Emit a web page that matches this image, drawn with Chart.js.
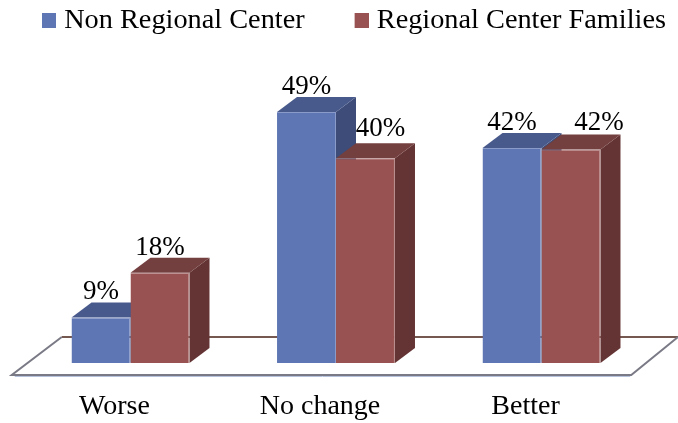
<!DOCTYPE html>
<html>
<head>
<meta charset="utf-8">
<style>html,body{margin:0;padding:0;background:#fff}#w{position:relative;width:678px;height:423px}</style>
<script src="https://cdn.jsdelivr.net/npm/chart.js@4"></script>
</head>
<body>
<div id="w"><canvas id="c" width="678" height="423"></canvas></div>
<script>
const categories = ['Worse', 'No change', 'Better'];
const nonRegional = [8.9, 49, 42];
const regional = [17.6, 40, 41.7];
const seriesNames = ['Non Regional Center', 'Regional Center Families'];

const FONT = '"Liberation Serif", serif';
const faces = [
  {front: '#5f76b4', top: '#48598b', side: '#3d4c78', edge: '#8b9bc9'},
  {front: '#995252', top: '#743f3f', side: '#643333', edge: '#b98b8b'}
];
const depth = {dx: 20, dy: -15};
const labelNudge = [
  [{dx: 0, dy: -18}, {dx: 0, dy: -18}, {dx: 0, dy: -18}],
  [{dx: 0, dy: -18}, {dx: 15, dy: -22}, {dx: 28, dy: -19}]
];

function swatch(color) {
  const cv = document.createElement('canvas');
  cv.width = 69; cv.height = 15;
  const g = cv.getContext('2d');
  g.fillStyle = color;
  g.fillRect(55, 0, 14, 15);
  return cv;
}
const swatches = faces.map(f => swatch(f.front));

function poly(ctx, pts, fill) {
  ctx.beginPath();
  pts.forEach((p, i) => i ? ctx.lineTo(p[0], p[1]) : ctx.moveTo(p[0], p[1]));
  ctx.closePath();
  ctx.fillStyle = fill;
  ctx.fill();
}

const threeD = {
  id: 'threeD',
  afterLayout(chart) {
    const l = chart.legend;
    l.left -= 8; l.right -= 8; l.top += 5; l.bottom += 5;
  },
  beforeDatasetsDraw(chart) {
    const {ctx, scales} = chart;
    const y0 = scales.y.getPixelForValue(0);
    const L = scales.x.left, R = scales.x.right;
    const fy = y0 + 12, by = y0 - 26;
    ctx.save();
    ctx.lineWidth = 2;
    ctx.strokeStyle = '#75584f';
    ctx.beginPath(); ctx.moveTo(L + 34, by); ctx.lineTo(678, by); ctx.stroke();
    ctx.strokeStyle = '#7a7a86';
    ctx.beginPath();
    ctx.moveTo(L + 34, by); ctx.lineTo(L - 16, fy); ctx.lineTo(R - 13, fy); ctx.lineTo(678, by);
    ctx.stroke();
    ctx.strokeStyle = '#b6c2dc'; ctx.lineWidth = 1;
    ctx.beginPath(); ctx.moveTo(L - 13, fy + 1.5); ctx.lineTo(R - 14, fy + 1.5); ctx.stroke();
    categories.forEach((_, i) => {
      chart.data.datasets.forEach((ds, d) => {
        const b = chart.getDatasetMeta(d).data[i];
        const x0 = b.x - b.width / 2, x1 = b.x + b.width / 2, t = b.y, base = b.base;
        poly(ctx, [[x1, t], [x1 + depth.dx, t + depth.dy], [x1 + depth.dx, base + depth.dy], [x1, base]], faces[d].side);
        poly(ctx, [[x0, t], [x0 + depth.dx, t + depth.dy], [x1 + depth.dx, t + depth.dy], [x1, t]], faces[d].top);
      });
    });
    ctx.restore();
  },
  afterDatasetsDraw(chart) {
    const {ctx} = chart;
    ctx.save();
    ctx.font = '27px ' + FONT;
    ctx.fillStyle = '#000';
    ctx.textAlign = 'center';
    ctx.textBaseline = 'alphabetic';
    chart.data.datasets.forEach((ds, d) => {
      chart.getDatasetMeta(d).data.forEach((b, i) => {
        const n = labelNudge[d][i];
        ctx.fillText(Math.round(ds.data[i]) + '%', b.x + n.dx, b.y + n.dy);
      });
    });
    ctx.restore();
  }
};

const edgeWidth = {top: 1, right: 1, bottom: 0, left: 0};

new Chart(document.getElementById('c'), {
  type: 'bar',
  data: {
    labels: categories,
    datasets: [
      {label: seriesNames[0], data: nonRegional, backgroundColor: faces[0].front, borderColor: faces[0].edge, borderWidth: edgeWidth},
      {label: seriesNames[1], data: regional, backgroundColor: faces[1].front, borderColor: faces[1].edge, borderWidth: edgeWidth}
    ]
  },
  plugins: [threeD],
  options: {
    responsive: false,
    animation: false,
    layout: {padding: 0},
    datasets: {bar: {categoryPercentage: 0.574, barPercentage: 1}},
    plugins: {
      tooltip: {enabled: false},
      legend: {
        position: 'top',
        align: 'start',
        labels: {
          usePointStyle: true,
          pointStyleWidth: 57,
          boxHeight: 15,
          padding: 1,
          color: '#000',
          font: {family: FONT, size: 28.3, lineHeight: 1},
          generateLabels(chart) {
            return Chart.defaults.plugins.legend.labels.generateLabels(chart)
              .map((it, i) => Object.assign(it, {pointStyle: swatches[i]}));
          }
        }
      }
    },
    scales: {
      x: {
        grid: {display: false, drawTicks: false},
        border: {display: false},
        ticks: {color: '#000', padding: 30, labelOffset: -16, maxRotation: 0, font: {family: FONT, size: 28, lineHeight: 1}},
        afterFit(s) { s.height = 60; }
      },
      y: {
        min: 0, max: 63.2,
        grid: {display: false},
        border: {display: false},
        ticks: {display: false},
        afterFit(s) { s.width = 27.75; }
      },
      yRight: {
        position: 'right',
        grid: {display: false},
        border: {display: false},
        ticks: {display: false},
        afterFit(s) { s.width = 33.75; }
      }
    }
  }
});
</script>
</body>
</html>
